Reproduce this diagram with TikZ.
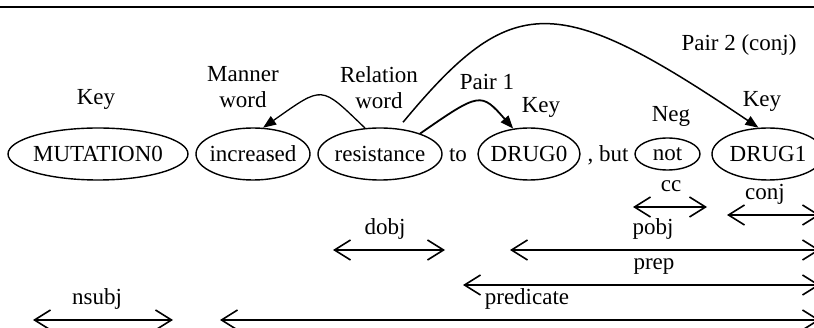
\documentclass[tikz,border=0pt]{standalone}
\usepackage{fontspec}
\setmainfont{Liberation Serif}
\usetikzlibrary{arrows.meta,shapes.geometric}

\tikzset{
  every node/.style={font=\fontsize{23}{26}\selectfont, inner sep=0pt},
  word/.style 2 args={ellipse, draw, line width=1.4pt, minimum width=#1pt, minimum height=#2pt,
    execute at begin node=\hbox to 0pt\bgroup\hss, execute at end node=\hss\egroup},
  rel/.style={line width=1.3pt, -{Triangle[length=13pt,width=10pt]}},
  dep/.style={line width=1.6pt, {Straight Barb[length=16pt,width=20pt]}-{Straight Barb[length=16pt,width=20pt]}}
}

\begin{document}
\begin{tikzpicture}[x=1pt,y=-1pt]
\clip (0,0) rectangle (814,328);
\draw[line width=2.5pt] (0,7) -- (814,7);

\node[word={180}{52}] (mut) at (98,154) {MUTATION0};
\node[word={114}{52}] (inc) at (253,154) {increased};
\node[word={124}{52}] (res) at (380,154) {resistance};
\node[anchor=base] (to) at (458,162) {to};
\node[word={102}{52}] (drug0) at (529,154) {DRUG0};
\node[anchor=base] (but) at (608,162) {, but};
\node[word={65}{32}] (neg) at (667.5,154) {not};
\node[word={112}{52}] (drug1) at (768,154) {DRUG1};

\node[anchor=base] (key0) at (96,105) {Key};
\node[align=center] (manner) at (243,87.5) {Manner\\word};
\node[align=center] (relation) at (379,87.7) {Relation\\word};
\node[anchor=base] (pair1) at (487,90) {Pair 1};
\node[anchor=base] (key1) at (541,113) {Key};
\node[anchor=base] (neglbl) at (671,122) {Neg};
\node[anchor=base] (key2) at (762,107) {Key};
\node[anchor=base] (pair2) at (739,51) {Pair 2 (conj)};

\draw[rel] (res.120) .. controls (320,85) and (324,85) .. (inc.69);
\draw[rel, line width=1.8pt] (res.27) .. controls (480,92) and (481,92) .. (drug0.122);
\draw[rel, line width=1.5pt, shorten <=8pt] (res.55) .. controls (512,-9) and (556,-9) .. (drug1.110);

\foreach \n/\a/\b/\y/\lx in {nsubj/33/173/320/97, predicate/220/820/320/527,
    prep/463/820/285/654, dobj/333/445/250/385, pobj/510/820/250/653,
    cc/633/707/207/671, conj/727/820/215/765}{
  \coordinate (\n-l) at (\a,\y);
  \coordinate (\n-r) at (\b,\y);
  \node[anchor=base] (\n) at (\lx,\y-15) {\n};
  \draw[dep] (\n-l) -- (\n-r);
}
\end{tikzpicture}
\end{document}
